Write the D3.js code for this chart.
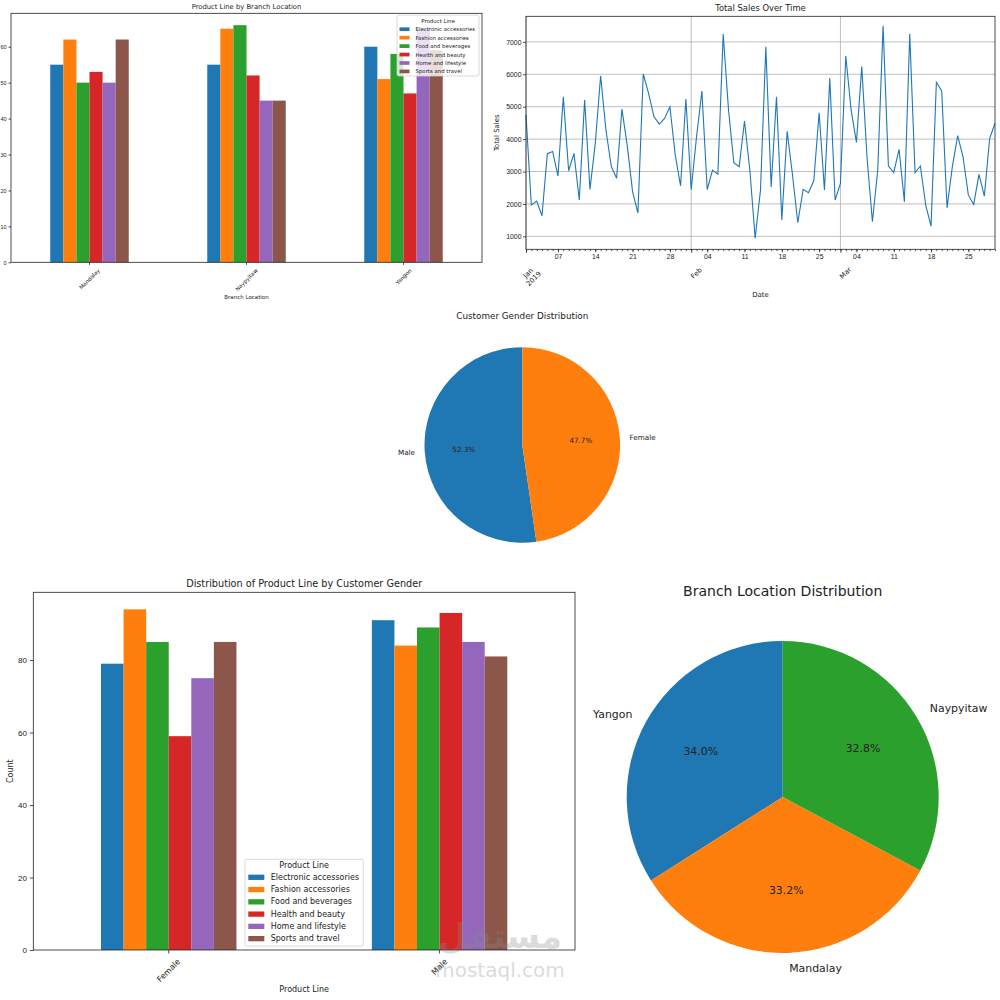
<!DOCTYPE html>
<html>
<head>
<meta charset="utf-8">
<script src="https://cdn.jsdelivr.net/npm/d3@7"></script>
<style>
  body { margin: 0; background: #fff; }
  svg { display: block; font-family: "DejaVu Sans", sans-serif; }
</style>
</head>
<body>
<svg id="chart" width="1000" height="1000"></svg>
<script>
// product lines (shared by both bar charts) and matplotlib tab10 colours
const productLines = ['Electronic accessories', 'Fashion accessories', 'Food and beverages',
  'Health and beauty', 'Home and lifestyle', 'Sports and travel'];
const lineColors = ['#1f77b4', '#ff7f0e', '#2ca02c', '#d62728', '#9467bd', '#8c564b'];

// top-left: product line counts by branch
const branches = ['Mandalay', 'Naypyitaw', 'Yangon'];
const mandalayCounts = [55, 62, 50, 53, 50, 62];
const naypyitawCounts = [55, 65, 66, 52, 45, 45];
const yangonCounts = [60, 51, 58, 47, 65, 59];
const branchYTicks = [0, 10, 20, 30, 40, 50, 60];

// top-right: total sales per day, 1 Jan 2019 onwards
const salesStart = new Date(2019, 0, 1);
const dailySales = [
  4745, 1965, 2085, 1635, 3550, 3620, 2860, 5310, 3025, 3560,
  2120, 5210, 2450, 3870, 5950, 4280, 3160, 2790, 4925, 3800,
  2375, 1720, 6010, 5415, 4695, 4465, 4640, 5000, 3510, 2560,
  5240, 2445, 4075, 5485, 2445, 3045, 2920, 7245, 4900, 3270,
  3150, 4560, 3045, 940, 2430, 6850, 2520, 5310, 1505, 4240,
  2900, 1420, 2450, 2345, 2715, 4815, 2430, 5875, 2120, 2635,
  6565, 4900, 3900, 6240, 3400, 1450, 3045, 7495, 3170, 2970,
  3685, 2065, 7245, 2960, 3170, 1965, 1315, 5755, 5485, 1880,
  3150, 4105, 3455, 2270, 1985, 2910, 2240, 4025, 4490
];
const salesYTicks = [1000, 2000, 3000, 4000, 5000, 6000, 7000];

// middle: customer gender shares (%)
const genders = ['Male', 'Female'];
const genderShares = [52.3, 47.7];

// bottom-left: product line counts by gender
const genderGroups = ['Female', 'Male'];
const femaleCounts = [79, 94, 85, 59, 75, 85];
const maleCounts = [91, 84, 89, 93, 85, 81];
const genderYTicks = [0, 20, 40, 60, 80];

// bottom-right: branch shares (%)
const branchNames = ['Yangon', 'Mandalay', 'Naypyitaw'];
const branchShares = [34.0, 33.2, 32.8];

const svg = d3.select('#chart');
const ink = '#222';

function addText(g, x, y, txt, size, anchor) {
  return g.append('text')
    .attr('x', x)
    .attr('y', y)
    .attr('font-size', size)
    .attr('text-anchor', anchor || 'middle')
    .attr('dominant-baseline', 'central')
    .attr('fill', ink)
    .text(txt);
}

// label rotated 45deg whose rotated box is centred under x and starts at top
function rotatedLabel(g, x, top, txt, size) {
  const t = addText(g, 0, 0, txt, size);
  const w = t.node().getComputedTextLength();
  const cy = top + (w + size) * 0.3536;
  t.attr('transform', `translate(${x},${cy}) rotate(-45)`);
}

function styleAxis(axis, size) {
  axis.select('.domain').remove();
  axis.selectAll('text').attr('font-size', size).attr('fill', ink);
  axis.selectAll('line').attr('stroke', ink).attr('stroke-width', 0.8);
}

function drawLegend(g, lg) {
  g.append('rect')
    .attr('x', lg.x).attr('y', lg.y)
    .attr('width', lg.w).attr('height', lg.h)
    .attr('rx', 2)
    .attr('fill', '#fff').attr('fill-opacity', 0.8)
    .attr('stroke', '#d0d0d0').attr('stroke-width', 0.8);
  addText(g, lg.x + lg.w / 2, lg.titleY, 'Product Line', lg.size);
  productLines.forEach((name, i) => {
    const rowY = lg.rowY + i * lg.step;
    g.append('rect')
      .attr('x', lg.patchX).attr('y', rowY - lg.patchH / 2)
      .attr('width', lg.patchW).attr('height', lg.patchH)
      .attr('fill', lineColors[i]);
    addText(g, lg.textX, rowY, name, lg.size, 'start');
  });
}

// grouped bar chart (pandas style: group width 0.5)
function renderGroupedBars(c) {
  const g = svg.append('g');

  const x0 = d3.scaleBand()
    .domain(c.groups)
    .range([c.left, c.right])
    .paddingInner(0.5)
    .paddingOuter(0.25);
  const x1 = d3.scaleBand().domain(productLines).range([0, x0.bandwidth()]);
  const y = d3.scaleLinear().domain([0, c.yMax]).range([c.bottom, c.top]);

  c.groups.forEach((grp, i) => {
    g.selectAll(null)
      .data(c.values[i])
      .join('rect')
      .attr('x', (d, j) => x0(grp) + x1(productLines[j]))
      .attr('y', d => y(d))
      .attr('width', x1.bandwidth())
      .attr('height', d => y(0) - y(d))
      .attr('fill', (d, j) => lineColors[j]);
  });

  const yAxis = g.append('g')
    .attr('transform', `translate(${c.left},0)`)
    .call(d3.axisLeft(y).tickValues(c.yTicks).tickSize(c.tick).tickPadding(c.tick * 0.8));
  styleAxis(yAxis, c.size);

  const xAxis = g.append('g')
    .attr('transform', `translate(0,${c.bottom})`)
    .call(d3.axisBottom(x0).tickSize(c.tick).tickFormat(''));
  styleAxis(xAxis, c.size);
  c.groups.forEach(grp => {
    rotatedLabel(g, x0(grp) + x0.bandwidth() / 2, c.bottom + c.tick + c.size * 0.5, grp, c.size);
  });

  g.append('rect')
    .attr('x', c.left).attr('y', c.top)
    .attr('width', c.right - c.left).attr('height', c.bottom - c.top)
    .attr('fill', 'none').attr('stroke', ink).attr('stroke-width', 0.8);

  addText(g, (c.left + c.right) / 2, c.titleY, c.title, c.titleSize);
  addText(g, (c.left + c.right) / 2, c.xLabelY, c.xLabel, c.size);
  if (c.yLabel) {
    addText(g, 0, 0, c.yLabel, c.size)
      .attr('transform', `translate(${c.yLabelX},${(c.top + c.bottom) / 2}) rotate(-90)`);
  }
  drawLegend(g, c.legend);
}

// daily sales line chart
function renderSalesLine() {
  const g = svg.append('g');
  const left = 526, right = 995, top = 16.3, bottom = 249.3;
  const size = 6.9;

  const days = d3.timeDay.range(salesStart, d3.timeDay.offset(salesStart, dailySales.length));
  const series = days.map((date, i) => ({ date, value: dailySales[i] }));

  const x = d3.scaleTime().domain(d3.extent(days)).range([left, right]);
  const y = d3.scaleLinear().domain([600, 7790]).range([bottom, top]);
  const months = d3.timeMonth.range(salesStart, days[days.length - 1]);
  const mondays = d3.timeMonday.range(salesStart, days[days.length - 1]);

  // grid
  g.selectAll(null).data(salesYTicks).join('line')
    .attr('x1', left).attr('x2', right)
    .attr('y1', d => y(d)).attr('y2', d => y(d))
    .attr('stroke', '#b0b0b0').attr('stroke-width', 0.8);
  g.selectAll(null).data(months).join('line')
    .attr('x1', d => x(d)).attr('x2', d => x(d))
    .attr('y1', top).attr('y2', bottom)
    .attr('stroke', '#b0b0b0').attr('stroke-width', 0.8);

  g.append('path')
    .datum(series)
    .attr('fill', 'none')
    .attr('stroke', '#1f77b4')
    .attr('stroke-width', 1.1)
    .attr('d', d3.line().x(d => x(d.date)).y(d => y(d.value)));

  const yAxis = g.append('g')
    .attr('transform', `translate(${left},0)`)
    .call(d3.axisLeft(y).tickValues(salesYTicks).tickSize(3).tickPadding(1.5)
      .tickFormat(d3.format('d')));
  styleAxis(yAxis, size);

  // daily minor ticks
  g.append('g')
    .attr('transform', `translate(0,${bottom})`)
    .call(d3.axisBottom(x).tickValues(days).tickSize(1.8).tickFormat(''))
    .call(a => styleAxis(a, size));
  // weekly labelled ticks
  const weekAxis = g.append('g')
    .attr('transform', `translate(0,${bottom})`)
    .call(d3.axisBottom(x).tickValues(mondays).tickSize(3).tickPadding(1.5)
      .tickFormat(d3.timeFormat('%d')));
  styleAxis(weekAxis, size);
  // month ticks and rotated labels
  g.append('g')
    .attr('transform', `translate(0,${bottom})`)
    .call(d3.axisBottom(x).tickValues(months).tickSize(3.5).tickFormat(''))
    .call(a => styleAxis(a, size));
  months.forEach((m, i) => {
    const t = g.append('text')
      .attr('font-size', size)
      .attr('text-anchor', 'middle')
      .attr('fill', ink)
      .attr('transform', `translate(${x(m) + (i === 0 ? 2 : 5)},273) rotate(-45)`);
    t.append('tspan').attr('x', 0).attr('dy', '0.35em').text(d3.timeFormat('%b')(m));
    if (i === 0) t.append('tspan').attr('x', 0).attr('dy', '1.15em').text(d3.timeFormat('%Y')(m));
  });

  g.append('rect')
    .attr('x', left).attr('y', top)
    .attr('width', right - left).attr('height', bottom - top)
    .attr('fill', 'none').attr('stroke', ink).attr('stroke-width', 0.8);

  addText(g, (left + right) / 2, 8.3, 'Total Sales Over Time', 8.4);
  addText(g, (left + right) / 2, 295, 'Date', size);
  addText(g, 0, 0, 'Total Sales', size)
    .attr('transform', `translate(496.5,${(top + bottom) / 2}) rotate(-90)`);
}

// matplotlib-like pie: startangle 90, counter-clockwise
function renderPie(c) {
  const g = svg.append('g').attr('transform', `translate(${c.cx},${c.cy})`);
  const pie = d3.pie().sort(null).startAngle(0).endAngle(-2 * Math.PI);
  const arc = d3.arc().innerRadius(0).outerRadius(c.r);
  const arcs = pie(c.shares);

  g.selectAll('path')
    .data(arcs)
    .join('path')
    .attr('d', arc)
    .attr('fill', (d, i) => c.colors[i]);

  arcs.forEach((d, i) => {
    const a = (d.startAngle + d.endAngle) / 2;
    const lx = Math.sin(a) * c.r * 1.1;
    const ly = -Math.cos(a) * c.r * 1.1;
    addText(g, lx, ly, c.names[i], c.size, lx > 0 ? 'start' : 'end');
    addText(g, Math.sin(a) * c.r * 0.6, -Math.cos(a) * c.r * 0.6,
      d3.format('.1f')(c.shares[i]) + '%', c.size);
  });

  addText(svg, c.cx, c.titleY, c.title, c.titleSize);
}

renderGroupedBars({
  groups: branches,
  values: [mandalayCounts, naypyitawCounts, yangonCounts],
  yTicks: branchYTicks,
  yMax: 69.3,
  left: 11, right: 482, top: 13.3, bottom: 262.3,
  tick: 2.5, size: 5.5,
  title: 'Product Line by Branch Location', titleY: 6.8, titleSize: 6.8,
  xLabel: 'Branch Location', xLabelY: 296.5,
  legend: {
    x: 397, y: 15, w: 82, h: 61, size: 5.4, titleY: 20.6,
    rowY: 29.2, step: 8.45, patchX: 399.5, patchW: 10, patchH: 3.7, textX: 415.5
  }
});

renderSalesLine();

renderPie({
  cx: 522.3, cy: 445, r: 97.8,
  names: genders, shares: genderShares, colors: lineColors.slice(0, 2),
  size: 7.2, title: 'Customer Gender Distribution', titleY: 315.7, titleSize: 8.8
});

renderGroupedBars({
  groups: genderGroups,
  values: [femaleCounts, maleCounts],
  yTicks: genderYTicks,
  yMax: 98.7,
  left: 33.3, right: 575, top: 592.3, bottom: 950,
  tick: 3.5, size: 8,
  title: 'Distribution of Product Line by Customer Gender', titleY: 583.3, titleSize: 9.7,
  xLabel: 'Product Line', xLabelY: 989.3,
  yLabel: 'Count', yLabelX: 10,
  legend: {
    x: 245, y: 859.3, w: 118.3, h: 86.7, size: 8, titleY: 865.6,
    rowY: 877.3, step: 12.27, patchX: 248.3, patchW: 16, patchH: 5.3, textX: 270.7
  }
});

renderPie({
  cx: 782.7, cy: 797, r: 156,
  names: branchNames, shares: branchShares, colors: lineColors.slice(0, 3),
  size: 10.9, title: 'Branch Location Distribution', titleY: 590.7, titleSize: 14
});

// faint watermark of the source site
const mark = svg.append('g').attr('opacity', 0.3).attr('fill', '#8a8a8a');
mark.append('text')
  .attr('x', 500).attr('y', 948)
  .attr('text-anchor', 'middle')
  .attr('font-size', 34).attr('font-weight', 'bold')
  .text('مستقل');
mark.append('text')
  .attr('x', 500).attr('y', 977)
  .attr('text-anchor', 'middle')
  .attr('font-size', 20)
  .text('mostaql.com');
</script>
</body>
</html>
